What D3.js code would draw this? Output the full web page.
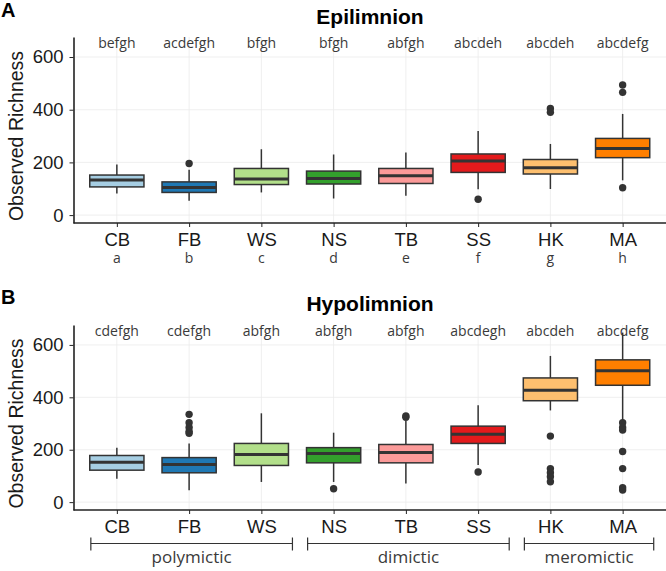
<!DOCTYPE html>
<html>
<head>
<meta charset="utf-8">
<script src="https://cdn.jsdelivr.net/npm/d3@7"></script>
<style>
  body { margin: 0; background: #fff; }
  text { font-family: "Liberation Sans", Arial, sans-serif; }
  .grid line { stroke: #ebebeb; stroke-width: 0.8; }
  .axis path, .axis line { stroke: #222; }
  .letters { font-family: "Open Sans", sans-serif; fill: #3a3a3a; font-size: 14px; }
</style>
</head>
<body>
<div id="chart"></div>
<script>
// lakes and colours
var lakes = ["CB", "FB", "WS", "NS", "TB", "SS", "HK", "MA"];
var lakeColors = ["#a6cee3", "#1f78b4", "#b2df8a", "#33a02c", "#fb9a99", "#e31a1c", "#fdbf6f", "#ff7f00"];
var lakeCodes = ["a", "b", "c", "d", "e", "f", "g", "h"];
var yTicks = [0, 200, 400, 600];

// box stats per lake: [lower whisker, q1, median, q3, upper whisker]
var epiStats = [
  [82, 107, 133, 152, 192],
  [54, 86, 105, 126, 172],
  [86, 116, 137, 177, 250],
  [63, 118, 139, 167, 230],
  [73, 120, 149, 177, 238],
  [98, 162, 205, 232, 319],
  [99, 156, 180, 211, 270],
  [132, 218, 253, 291, 384]
];
var epiOutliers = [[], [196], [], [], [], [60], [405, 390], [104, 494, 466]];
var epiLetters = ["befgh", "acdefgh", "bfgh", "bfgh", "abfgh", "abcdeh", "abcdeh", "abcdefg"];

var hypoStats = [
  [89, 122, 152, 178, 208],
  [45, 112, 144, 170, 224],
  [77, 140, 182, 224, 339],
  [77, 150, 186, 208, 265],
  [71, 150, 189, 220, 310],
  [142, 224, 259, 290, 370],
  [350, 387, 427, 474, 558],
  [312, 446, 501, 543, 647]
];
var hypoOutliers = [
  [], [335, 303, 285, 270, 263], [], [51], [329, 324], [115],
  [252, 128, 112, 97, 78],
  [303, 285, 275, 193, 128, 55, 46]
];
var hypoLetters = ["cdefgh", "cdefgh", "abfgh", "abfgh", "abfgh", "abcdegh", "abcdeh", "abcdefg"];

var mixGroups = [
  { name: "polymictic", from: "CB", to: "WS" },
  { name: "dimictic", from: "NS", to: "SS" },
  { name: "meromictic", from: "HK", to: "MA" }
];

var W = 666, H = 571;
var svg = d3.select("#chart").append("svg")
  .attr("width", W).attr("height", H);

var x = d3.scalePoint().domain(lakes).range([73.5, 666]).padding(0.6);
var step = x.step();
var boxW = step * 0.75;

function panel(opts) {
  var y = d3.scaleLinear().domain([-30, 676]).range([opts.bottom, opts.top]);
  var g = svg.append("g");

  // grid
  var grid = g.append("g").attr("class", "grid");
  grid.selectAll(".gy").data(yTicks).enter().append("line")
    .attr("x1", 73.5).attr("x2", 666)
    .attr("y1", function(d) { return y(d); }).attr("y2", function(d) { return y(d); });
  grid.selectAll(".gx").data(lakes).enter().append("line")
    .attr("x1", function(d) { return x(d); }).attr("x2", function(d) { return x(d); })
    .attr("y1", opts.top).attr("y2", opts.bottom);

  // axes
  var ya = g.append("g").attr("class", "axis")
    .attr("transform", "translate(73.5,0)")
    .call(d3.axisLeft(y).tickValues(yTicks).tickSize(4).tickPadding(6).tickSizeOuter(0));
  ya.select(".domain").attr("stroke-width", 1.6);
  ya.selectAll("line").attr("stroke-width", 1);
  ya.selectAll("text").attr("font-size", 18.5).attr("fill", "#1a1a1a");

  var xa = g.append("g").attr("class", "axis")
    .attr("transform", "translate(0," + opts.bottom + ")")
    .call(d3.axisBottom(x).tickSize(4).tickPadding(6).tickSizeOuter(0));
  xa.select(".domain").attr("d", "M73.5,0H666").attr("stroke-width", 1.6);
  xa.selectAll("line").attr("stroke-width", 1);
  xa.selectAll("text").attr("font-size", 18.5).attr("fill", "#1a1a1a");

  // y title
  g.append("text")
    .attr("transform", "translate(23," + ((opts.top + opts.bottom) / 2 + 6) + ") rotate(-90)")
    .attr("text-anchor", "middle")
    .attr("font-size", 19.5)
    .attr("fill", "#1a1a1a")
    .text("Observed Richness");

  // titles
  g.append("text")
    .attr("x", 370).attr("y", opts.titleY)
    .attr("text-anchor", "middle")
    .attr("font-size", 21).attr("font-weight", "bold")
    .text(opts.title);
  g.append("text")
    .attr("x", 1).attr("y", opts.tagY)
    .attr("font-size", 20).attr("font-weight", "bold")
    .text(opts.tag);

  // significance letters
  g.selectAll(".sig").data(opts.letters).enter().append("text")
    .attr("class", "letters")
    .attr("x", function(d, i) { return x(lakes[i]); })
    .attr("y", opts.top + 11)
    .attr("text-anchor", "middle")
    .text(function(d) { return d; });

  // boxes
  var boxes = g.selectAll(".box").data(opts.stats).enter().append("g")
    .attr("transform", function(d, i) { return "translate(" + x(lakes[i]) + ",0)"; });
  boxes.append("line")
    .attr("y1", function(d) { return y(d[0]); }).attr("y2", function(d) { return y(d[4]); })
    .attr("stroke", "#333").attr("stroke-width", 1.5);
  boxes.append("rect")
    .attr("x", -boxW / 2).attr("width", boxW)
    .attr("y", function(d) { return y(d[3]); })
    .attr("height", function(d) { return y(d[1]) - y(d[3]); })
    .attr("fill", function(d, i) { return lakeColors[i]; })
    .attr("stroke", "#333").attr("stroke-width", 1.5);
  boxes.append("line")
    .attr("x1", -boxW / 2).attr("x2", boxW / 2)
    .attr("y1", function(d) { return y(d[2]); }).attr("y2", function(d) { return y(d[2]); })
    .attr("stroke", "#333").attr("stroke-width", 3);

  // outliers
  opts.outliers.forEach(function(list, i) {
    g.selectAll(".out" + i).data(list).enter().append("circle")
      .attr("cx", x(lakes[i]))
      .attr("cy", function(d) { return y(d); })
      .attr("r", 3.7)
      .attr("fill", "#333");
  });
  return g;
}

panel({ top: 37, bottom: 223, title: "Epilimnion", titleY: 24, tag: "A", tagY: 17,
  stats: epiStats, outliers: epiOutliers, letters: epiLetters });

// lake code letters under panel A
svg.selectAll(".code").data(lakeCodes).enter().append("text")
  .attr("class", "letters")
  .attr("x", function(d, i) { return x(lakes[i]); })
  .attr("y", 263)
  .attr("text-anchor", "middle")
  .text(function(d) { return d; });

panel({ top: 325, bottom: 510, title: "Hypolimnion", titleY: 311, tag: "B", tagY: 304,
  stats: hypoStats, outliers: hypoOutliers, letters: hypoLetters });

// mixing regime brackets
var by = 543.5;
var br = svg.selectAll(".bracket").data(mixGroups).enter().append("g")
  .attr("stroke", "#333").attr("stroke-width", 1.2);
br.append("line")
  .attr("x1", function(d) { return x(d.from) - step * 0.36; })
  .attr("x2", function(d) { return x(d.to) + step * 0.43; })
  .attr("y1", by).attr("y2", by);
br.append("line")
  .attr("x1", function(d) { return x(d.from) - step * 0.36; })
  .attr("x2", function(d) { return x(d.from) - step * 0.36; })
  .attr("y1", by - 6).attr("y2", by + 7);
br.append("line")
  .attr("x1", function(d) { return x(d.to) + step * 0.43; })
  .attr("x2", function(d) { return x(d.to) + step * 0.43; })
  .attr("y1", by - 6).attr("y2", by + 7);
svg.selectAll(".mixlab").data(mixGroups).enter().append("text")
  .attr("class", "letters")
  .style("font-size", "17px")
  .attr("x", function(d) { return (x(d.from) - step * 0.36 + x(d.to) + step * 0.43) / 2; })
  .attr("y", 563)
  .attr("text-anchor", "middle")
  .text(function(d) { return d.name; });
</script>
</body>
</html>
